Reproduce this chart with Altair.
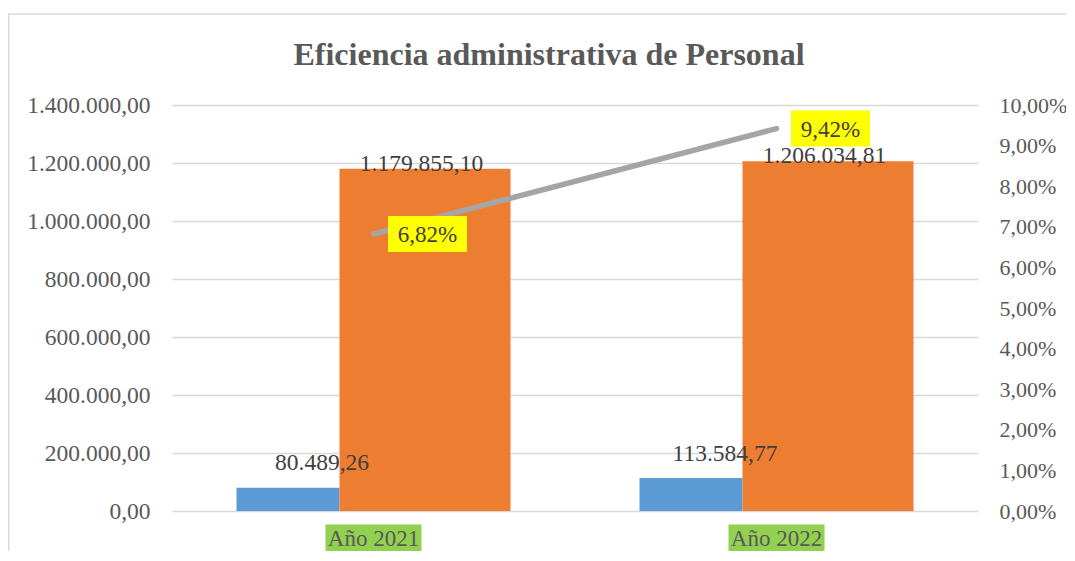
import altair as alt
import pandas as pd

categories = ["Año 2021", "Año 2022"]
gasto_personal = [80489.26, 113584.77]
gasto_total = [1179855.10, 1206034.81]
eficiencia = [0.0682, 0.0942]
title_text = "Eficiencia administrativa de Personal"

df = pd.DataFrame({
    "cat": categories,
    "personal": gasto_personal,
    "total": gasto_total,
    "pct": eficiencia,
})

FONT = "Liberation Serif"
AX_COLOR = "#595959"
LBL_COLOR = "#404040"

x_enc = alt.X("cat:N", sort=categories, axis=None,
              scale=alt.Scale(paddingInner=0, paddingOuter=0))

left_axis = alt.Axis(title=None, values=list(range(0, 1400001, 200000)), format=",.2f",
                     domain=False, ticks=False, grid=True, gridColor="#d9d9d9",
                     gridWidth=1.3, labelFont=FONT, labelFontSize=23.5,
                     labelColor=AX_COLOR, labelPadding=22)
left_scale = alt.Scale(domain=[0, 1400000], nice=False)

right_axis = alt.Axis(title=None, orient="right", values=[i / 100 for i in range(0, 11)],
                      format=".2%", domain=False, ticks=False, grid=False,
                      labelFont=FONT, labelFontSize=22, labelColor=AX_COLOR,
                      labelPadding=21)
right_scale = alt.Scale(domain=[0, 0.10], nice=False)

base = alt.Chart(df)

border = alt.Chart(pd.DataFrame({"d": [0]})).mark_rect(
    fillOpacity=0, stroke="#d9d9d9", strokeWidth=1.5
).encode(x=alt.value(-163.25), x2=alt.value(1000), y=alt.value(-91), y2=alt.value(600))

title = alt.Chart(pd.DataFrame({"t": [title_text]})).mark_text(
    font=FONT, fontSize=32, fontWeight="bold", color=AX_COLOR,
    baseline="alphabetic", align="center"
).encode(text="t:N", x=alt.value(377), y=alt.value(-40))

blue = base.mark_bar(width=103, xOffset=-85.5, color="#5b9bd5").encode(
    x=x_enc, y=alt.Y("personal:Q", scale=left_scale, axis=left_axis))
orange = base.mark_bar(width=171, xOffset=51.5, color="#ed7d31").encode(
    x=x_enc, y=alt.Y("total:Q", scale=left_scale, axis=left_axis))
blue_lbl = base.mark_text(font=FONT, fontSize=23.5, color=LBL_COLOR, baseline="middle",
                          dx=-51.5, dy=-24.5).encode(
    x=x_enc, y=alt.Y("personal:Q", scale=left_scale, axis=left_axis),
    text=alt.Text("personal:Q", format=",.2f"))
orange_lbl = base.mark_text(font=FONT, fontSize=23.5, color=LBL_COLOR, baseline="middle",
                            dx=48, dy=-5).encode(
    x=x_enc, y=alt.Y("total:Q", scale=left_scale, axis=left_axis),
    text=alt.Text("total:Q", format=",.2f"))

xbox = base.mark_point(filled=True, opacity=1, color="#92d050", strokeWidth=0,
                       shape="M-1,-0.28125L1,-0.28125L1,0.28125L-1,0.28125Z", size=9216).encode(
    x=x_enc, y=alt.value(433))
xlbl = base.mark_text(font=FONT, fontSize=23, color=AX_COLOR, baseline="middle").encode(
    x=x_enc, y=alt.value(434), text="cat:N")

left = alt.layer(blue, orange, blue_lbl, orange_lbl, xbox, xlbl)

line = base.mark_line(color="#a5a5a5", strokeWidth=5.5, strokeCap="round").encode(
    x=x_enc, y=alt.Y("pct:Q", scale=right_scale, axis=right_axis))
ybox = base.mark_point(filled=True, opacity=1, color="#ffff00", strokeWidth=0, xOffset=54,
                       shape="M-1,-0.4557L1,-0.4557L1,0.4557L-1,0.4557Z", size=6241).encode(
    x=x_enc, y=alt.Y("pct:Q", scale=right_scale, axis=right_axis))
ylbl = base.mark_text(font=FONT, fontSize=23, color=LBL_COLOR, baseline="middle", dx=54, dy=1).encode(
    x=x_enc, y=alt.Y("pct:Q", scale=right_scale, axis=right_axis),
    text=alt.Text("pct:Q", format=".2%"))

right = alt.layer(line, ybox, ylbl)

chart = alt.layer(border, title, left, right).resolve_scale(y="independent").properties(
    width=806, height=406,
    padding={"left": 164, "top": 97, "right": 88, "bottom": 40},
    autosize=alt.AutoSizeParams(type="none"),
).configure(
    locale={"number": {"decimal": ",", "thousands": ".", "grouping": [3], "currency": ["", ""]}}
).configure_view(stroke=None)

chart.save("out.html", embed_options={"renderer": "svg", "actions": False})
